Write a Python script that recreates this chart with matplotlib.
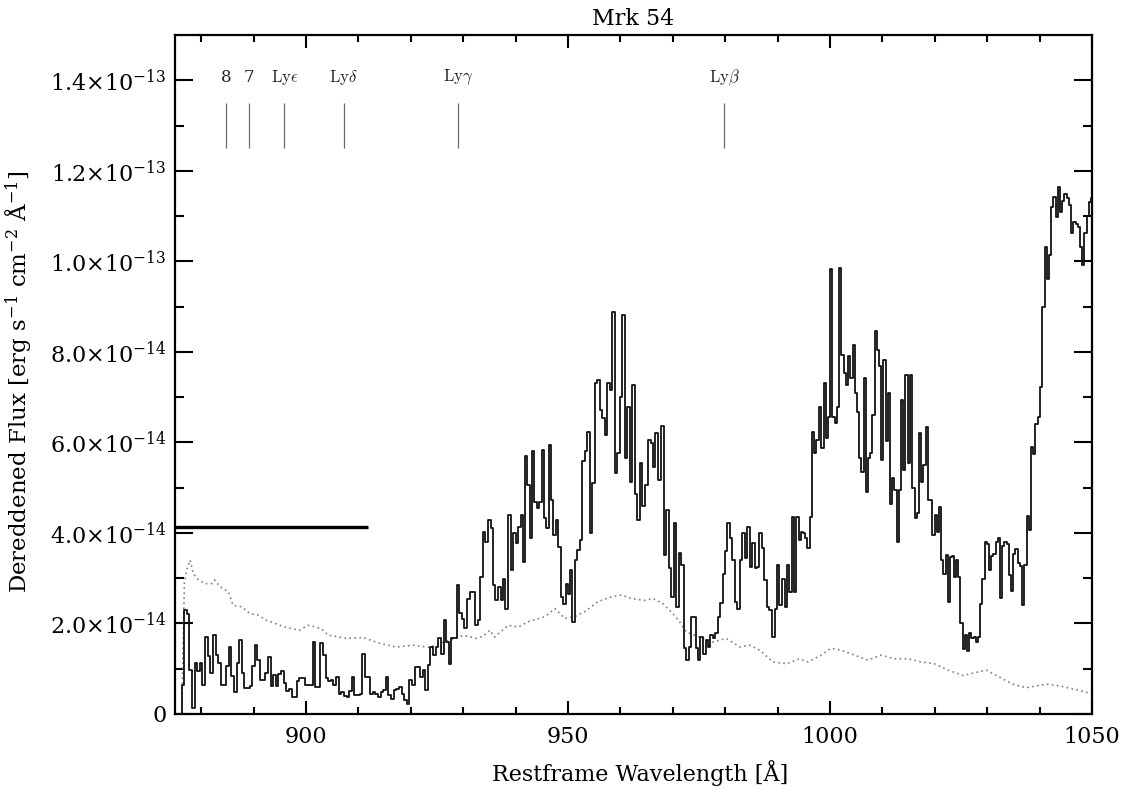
import numpy as np
import matplotlib
matplotlib.use("Agg")
import matplotlib.pyplot as plt
from matplotlib.ticker import FixedLocator, FuncFormatter

# ---------------- data (flux in units of 1e-14 erg/s/cm^2/A) ----------------
wave = [
    876.0, 876.5, 877.0, 877.5, 878.0, 878.5, 879.0, 879.5, 880.0, 880.5,
    881.0, 881.5, 882.0, 882.5, 883.0, 883.5, 884.0, 884.5, 885.0, 885.5,
    886.0, 886.5, 887.0, 887.5, 888.0, 888.5, 889.0, 889.5, 890.0, 890.5,
    891.0, 891.5, 892.0, 892.5, 893.0, 893.5, 894.0, 894.5, 895.0, 895.5,
    896.0, 896.5, 897.0, 897.5, 898.0, 898.5, 899.0, 899.5, 900.0, 900.5,
    901.0, 901.5, 902.0, 902.5, 903.0, 903.5, 904.0, 904.5, 905.0, 905.5,
    906.0, 906.5, 907.0, 907.5, 908.0, 908.5, 909.0, 909.5, 910.0, 910.5,
    911.0, 911.5, 912.0, 912.5, 913.0, 913.5, 914.0, 914.5, 915.0, 915.5,
    916.0, 916.5, 917.0, 917.5, 918.0, 918.5, 919.0, 919.5, 920.0, 920.5,
    921.0, 921.5, 922.0, 922.5, 923.0, 923.5, 924.0, 924.5, 925.0, 925.5,
    926.0, 926.5, 927.0, 927.5, 928.0, 928.5, 929.0, 929.5, 930.0, 930.5,
    931.0, 931.5, 932.0, 932.5, 933.0, 933.5, 934.0,
    934.45, 935.0, 935.5, 935.9, 936.4, 936.9, 937.4, 937.85, 938.3, 938.8,
    939.3, 939.8, 940.2, 940.7, 941.2, 941.6, 942.0, 942.5, 942.9, 943.3,
    943.8, 944.2, 944.7, 945.2, 945.7, 946.1, 946.5, 946.9, 947.4, 947.9,
    948.4, 948.8, 949.3, 949.8, 950.2, 950.6, 951.0, 951.5, 952.0, 952.5,
    952.9, 953.5, 953.9, 954.4, 954.9, 955.4, 955.8, 956.3, 956.8, 957.3,
    957.7, 958.2, 958.7, 959.1, 959.6, 960.1, 960.6, 961.1, 961.6, 962.0,
    962.5, 963.0, 963.5, 963.9, 964.4, 965.0, 965.5, 966.0, 966.4, 966.9,
    967.5, 968.0, 968.5, 969.0, 969.5, 970.0, 970.4, 970.9, 971.4, 971.9,
    972.3, 972.8, 973.3, 973.8, 974.2, 974.6, 975.0, 975.5, 976.0, 976.5,
    976.9, 977.4, 977.9, 978.4, 978.9, 979.3, 979.8, 980.2, 980.6, 981.1,
    981.6, 982.0, 982.5, 983.0, 983.5, 983.9, 984.4, 984.9, 985.4, 985.8,
    986.3, 986.8, 987.3, 987.7, 988.2, 988.7, 989.2, 989.7, 990.1, 990.6,
    991.1, 991.6, 992.0, 992.5, 993.0, 993.4, 993.8, 994.2, 994.6, 995.1,
    995.5, 995.9, 996.3, 996.7, 997.2, 997.6, 998.1, 998.6, 999.0, 999.4,
    999.8, 1000.2, 1000.7, 1001.1, 1001.5, 1001.9, 1002.4, 1002.8, 1003.2, 1003.6,
    1004.1, 1004.5, 1004.9, 1005.3, 1005.7, 1006.2, 1006.6, 1007.0, 1007.5, 1007.9,
    1008.3, 1008.7, 1009.1, 1009.6, 1010.0, 1010.4, 1010.8, 1011.3, 1011.7, 1012.1,
    1012.5, 1013.0, 1013.4, 1013.8, 1014.2, 1014.6, 1015.1, 1015.5, 1015.9, 1016.4,
    1016.8, 1017.2, 1017.6, 1018.0, 1018.5, 1018.9, 1019.3, 1019.7, 1020.2, 1020.6,
    1021.0, 1021.4, 1021.9, 1022.3, 1022.7, 1023.1, 1023.5, 1023.9, 1024.3, 1024.7,
    1025.1, 1025.5, 1025.9, 1026.3, 1026.7, 1027.2, 1027.6, 1028.0, 1028.4, 1028.9,
    1029.3, 1029.7, 1030.1, 1030.5, 1031.0, 1031.4, 1031.8, 1032.3, 1032.7, 1033.1,
    1033.5, 1033.9, 1034.4, 1034.8, 1035.2, 1035.6, 1036.1, 1036.5, 1036.9, 1037.3,
    1037.8, 1038.2, 1038.6, 1039.0, 1039.4, 1039.9, 1040.3, 1040.7, 1041.2, 1041.6,
    1042.0, 1042.4, 1042.8, 1043.3, 1043.7, 1044.1, 1044.5, 1045.0, 1045.4, 1045.8,
    1046.2, 1046.7, 1047.1, 1047.5, 1047.9, 1048.3, 1048.8, 1049.2, 1049.6, 1050.0,
    1050.4,
]
flux = [
    0.00, 0.63, 2.29, 2.20, 0.97, 0.13, 1.13, 0.94, 1.13, 0.65,
    1.70, 1.29, 0.91, 1.74, 1.31, 1.13, 0.63, 0.65, 1.05, 1.48,
    0.83, 0.48, 1.13, 1.64, 0.90, 0.58, 0.58, 0.62, 1.07, 1.53,
    1.20, 0.76, 0.76, 0.90, 1.25, 0.61, 0.87, 0.61, 0.89, 0.94,
    0.69, 0.50, 0.55, 0.38, 0.38, 0.72, 0.80, 0.80, 0.63, 0.63,
    0.63, 1.59, 0.60, 0.60, 1.57, 1.30, 0.80, 0.72, 0.74, 0.63,
    0.82, 0.45, 0.49, 0.40, 0.38, 0.50, 0.82, 0.41, 0.41, 0.45,
    1.33, 0.82, 0.82, 0.45, 0.49, 0.45, 0.38, 0.49, 0.52, 0.82,
    0.41, 0.34, 0.52, 0.56, 0.60, 0.45, 0.30, 0.23, 0.74, 0.65,
    1.04, 1.04, 0.82, 0.97, 0.52, 1.08, 1.48, 1.30, 1.48, 1.67,
    1.33, 2.07, 1.60, 1.11, 1.67, 1.67, 2.85, 2.22, 2.10, 1.89,
    2.55, 2.70, 2.70, 1.97, 2.08, 3.03, 4.03,
    3.80, 4.28, 4.10, 2.85, 2.51, 2.80, 2.51, 2.99, 2.33, 4.40,
    3.18, 3.99, 3.77, 4.14, 4.40, 3.36, 5.69, 5.06, 3.88, 5.80,
    4.69, 4.54, 4.69, 5.83, 4.32, 4.10, 5.94, 4.73, 3.95, 4.28,
    3.69, 2.59, 2.44, 2.88, 2.66, 3.18, 2.04, 3.40, 3.62, 3.84,
    5.58, 5.80, 6.24, 3.99, 5.10, 7.31, 7.38, 6.72, 6.53, 6.17,
    7.31, 7.16, 8.89, 5.32, 5.76, 7.01, 8.82, 5.65, 6.79, 5.13,
    7.27, 4.87, 4.28, 5.54, 4.60, 5.06, 6.05, 5.98, 5.46, 6.20,
    5.17, 6.36, 3.51, 4.50, 3.22, 2.59, 4.21, 2.37, 3.55, 3.29,
    1.45, 1.19, 1.48, 2.15, 2.15, 1.45, 1.19, 1.69, 1.33, 1.64,
    1.48, 1.74, 1.67, 1.78, 2.15, 2.46, 3.10, 3.61, 4.21, 3.88,
    3.40, 2.48, 2.33, 3.40, 3.99, 3.44, 4.14, 3.25, 3.77, 3.22,
    3.25, 3.99, 3.66, 2.96, 2.37, 2.29, 1.70, 2.33, 3.29, 2.40,
    2.99, 2.37, 3.29, 2.70, 4.36, 2.70, 4.36, 3.84, 4.03, 3.99,
    3.88, 3.66, 4.36, 6.24, 5.76, 6.05, 6.79, 5.87, 7.31, 6.09,
    6.57, 9.82, 6.57, 6.42, 6.79, 9.85, 7.94, 7.53, 7.27, 7.90,
    7.42, 8.16, 7.09, 6.68, 5.65, 5.35, 7.42, 4.91, 5.65, 5.76,
    6.61, 8.45, 8.05, 7.68, 5.61, 7.82, 6.02, 7.09, 4.65, 5.21,
    4.95, 3.81, 4.95, 6.94, 5.39, 7.49, 5.54, 7.49, 5.00, 4.32,
    4.43, 6.20, 5.13, 5.50, 6.35, 4.73, 4.73, 3.95, 4.40, 4.03,
    4.58, 3.40, 3.10, 3.51, 2.48, 3.47, 3.49, 3.02, 3.41, 3.02,
    2.01, 1.43, 1.74, 1.39, 1.78, 1.67, 1.70, 1.59, 1.70, 2.44,
    2.98, 3.80, 3.76, 3.18, 3.49, 3.53, 3.80, 3.88, 2.56, 3.72,
    3.80, 3.76, 3.06, 2.71, 3.53, 3.64, 3.33, 3.26, 2.40, 3.30,
    4.38, 4.07, 5.90, 5.74, 6.40, 6.56, 7.22, 9.00, 10.32, 9.62,
    10.13, 11.21, 11.42, 10.98, 11.64, 11.10, 11.33, 11.49, 11.41, 11.25,
    10.63, 10.87, 10.83, 10.75, 10.32, 9.93, 10.63, 11.00, 11.30, 11.40,
    11.40,
]

# dotted comparison spectrum (units of 1e-14)
dot_wave = [
    876.3, 876.8, 877.3, 877.9, 878.5, 879.5, 880.7, 882.0, 882.6, 883.6,
    885.2, 886.1, 887.7, 889.3, 890.9, 892.5, 894.1, 896.0, 898.8, 900.4,
    902.0, 903.3, 904.2, 905.5, 907.7, 910.9, 914.1, 917.3, 920.5, 923.6,
    925.5, 927.5, 930.0, 932.5, 933.8, 935.1, 936.0, 938.6, 940.5, 942.4,
    945.6, 947.5, 949.4, 951.3, 953.2, 955.7, 958.3, 960.2, 962.1, 964.6,
    966.2, 968.1, 970.0, 971.3, 972.6, 975.1, 977.7, 980.2, 982.8, 984.7,
    986.6, 989.1, 991.7, 994.2, 995.8, 998.3, 1000.2, 1002.2, 1004.7, 1007.2,
    1009.8, 1012.3, 1014.9, 1017.4, 1019.9, 1022.5, 1025.4, 1029.8, 1032.4, 1034.9,
    1037.4, 1041.3, 1043.8, 1047.0, 1049.5, 1050.5,
]
dot_flux = [
    0.00, 2.90, 3.20, 3.40, 3.10, 2.96, 2.88, 2.88, 2.96, 2.81,
    2.70, 2.40, 2.37, 2.22, 2.18, 2.07, 2.00, 1.92, 1.85, 1.96,
    1.92, 1.85, 1.74, 1.72, 1.67, 1.69, 1.56, 1.48, 1.52, 1.47,
    1.56, 1.63, 1.74, 1.67, 1.72, 1.85, 1.70, 1.96, 1.92, 2.04,
    2.15, 2.33, 2.11, 2.15, 2.26, 2.48, 2.59, 2.63, 2.55, 2.51,
    2.55, 2.44, 2.22, 2.04, 1.81, 1.70, 1.59, 1.67, 1.48, 1.52,
    1.41, 1.15, 1.11, 1.22, 1.15, 1.30, 1.45, 1.41, 1.30, 1.19,
    1.30, 1.22, 1.22, 1.15, 1.11, 0.97, 0.85, 0.97, 0.81, 0.66,
    0.58, 0.66, 0.62, 0.54, 0.46, 0.45,
]

# Lyman series line identifications (positions on this axis)
line_names = ["8", "7", r"$\mathrm{Ly}\epsilon$", r"$\mathrm{Ly}\delta$",
              r"$\mathrm{Ly}\gamma$", r"$\mathrm{Ly}\beta$"]
line_waves = [884.8, 889.1, 895.9, 907.2, 929.0, 979.8]

# thick horizontal bar (Lyman-limit level)
bar_start, bar_end, bar_level = 875.0, 911.8, 4.12

# axis ticks
x_major = [900, 950, 1000, 1050]
x_minor = [880, 890, 910, 920, 930, 940, 960, 970, 980, 990,
           1010, 1020, 1030, 1040]
y_major = [0.0, 2e-14, 4e-14, 6e-14, 8e-14, 1.0e-13, 1.2e-13, 1.4e-13]
y_minor = [1e-14, 3e-14, 5e-14, 7e-14, 9e-14, 1.1e-13, 1.3e-13]

SCALE = 1e-14

# ---------------- plot ----------------
plt.rcParams["font.family"] = ["DejaVu Serif"]
plt.rcParams["mathtext.fontset"] = "dejavuserif"

fig = plt.figure(figsize=(11.31, 7.92), dpi=100)
ax = fig.add_axes([0.1547, 0.0985, 0.8108, 0.8573])

ax.step(wave, np.array(flux) * SCALE, where="mid", color="#111111", lw=1.3, zorder=3)
ax.plot(dot_wave, np.array(dot_flux) * SCALE, color="#808080", lw=1.2,
        ls=(0, (1, 2)), zorder=2)
ax.hlines(bar_level * SCALE, bar_start, bar_end, color="black", lw=2.4, zorder=4)

for name, w in zip(line_names, line_waves):
    ax.vlines(w, 12.5 * SCALE, 13.5 * SCALE, color="#6a6a6a", lw=0.9)
    ax.text(w, 14.06 * SCALE, name, ha="center", va="center", fontsize=12,
            math_fontfamily="cm", color="#222222")

ax.set_xlim(875, 1050)
ax.set_ylim(0, 1.5e-13)

ax.xaxis.set_major_locator(FixedLocator(x_major))
ax.xaxis.set_minor_locator(FixedLocator(x_minor))
ax.yaxis.set_major_locator(FixedLocator(y_major))
ax.yaxis.set_minor_locator(FixedLocator(y_minor))


def yfmt(v, pos):
    if abs(v) < 1e-20:
        return "0"
    exp = int(np.floor(np.log10(abs(v)) + 1e-9))
    mant = v / 10.0 ** exp
    return r"$%.1f{\times}10^{%d}$" % (mant, exp)


ax.yaxis.set_major_formatter(FuncFormatter(yfmt))

ax.tick_params(which="both", direction="in", top=True, right=True, width=1.5,
               color="black")
ax.tick_params(axis="x", which="major", length=9.5, pad=9, labelsize=16)
ax.tick_params(axis="x", which="minor", length=5)
ax.tick_params(axis="y", which="major", length=13, pad=6, labelsize=16)
ax.tick_params(axis="y", which="minor", length=6.5)

for s in ax.spines.values():
    s.set_linewidth(1.6)

ax.set_xlabel("Restframe Wavelength [Å]", fontsize=16, va="center")
ax.xaxis.set_label_coords(0.507, -0.087)
ax.set_ylabel(r"Dereddened Flux [erg s$^{-1}$ cm$^{-2}$ Å$^{-1}$]",
              fontsize=16.5, va="center")
ax.yaxis.set_label_coords(-0.171, 0.489)
ax.set_title("Mrk 54", fontsize=16, pad=7)

fig.savefig("out.png", dpi=100)
